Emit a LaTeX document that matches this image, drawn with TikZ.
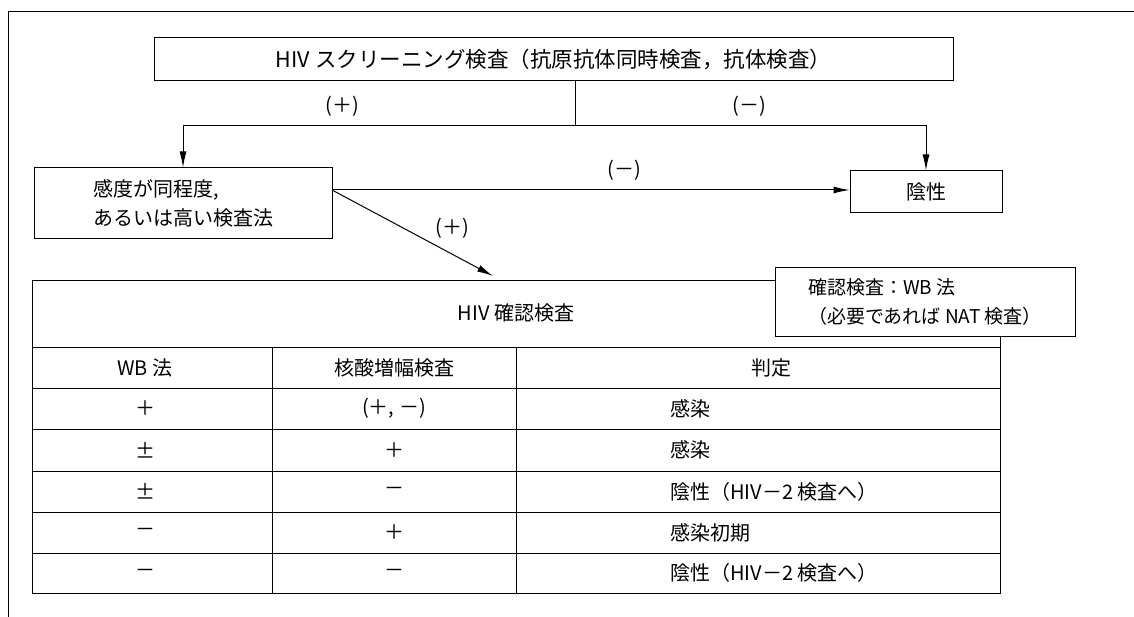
\documentclass[tikz,border=0pt]{standalone}
\usepackage{fontspec}
\setmainfont{Noto Sans CJK JP}
\usetikzlibrary{arrows.meta}
\begin{document}
\begin{tikzpicture}[x=1pt,y=-1pt,
  box/.style={draw, line width=1pt, inner sep=0pt, fill=white},
  txt/.style={font=\fontsize{20}{29}\selectfont, inner sep=0pt},
  conn/.style={line width=1pt},
  arr/.style={conn, -{Latex[length=16pt,width=7pt]}},
  grid/.style={line width=0.9pt},
]
\useasboundingbox (0,0) rectangle (1134,617);
\draw[line width=0.8pt] (8,617) -- (8,11) -- (1134,11);

% flow boxes
\node[box, txt, font=\fontsize{21.5}{29}\selectfont, minimum width=799pt, minimum height=43pt] (scr) at (553.5,59.5)
  {HIV スクリーニング検査（抗原抗体同時検査，抗体検査）};
\node[box, txt, minimum width=298pt, minimum height=71pt, align=left] (sens) at (183,203.5)
  {感度が同程度,\\あるいは高い検査法};
\node[box, txt, minimum width=152pt, minimum height=42pt] (neg) at (926,192) {陰性};

% connectors
\coordinate (j) at (575,126);
\draw[conn] (j |- scr.south) -- (j);
\draw[arr] (j) -| (sens.north);
\draw[arr] (j) -| (neg.north);
\coordinate (s1) at (332,190);
\coordinate (d) at (493,276);
\draw[arr] (s1) -- (s1 -| neg.west);
\draw[arr] (s1) -- (d);

\node[txt] (l1) at (342,106) {(＋)};
\node[txt] (l2) at (749,106) {(－)};
\node[txt] (l3) at (624,170) {(－)};
\node[txt] (l4) at (452,228) {(＋)};

% table
\draw[grid] (32,280) rectangle (1000,593);
\foreach \yy in {347,388,429,471,512,553} \draw[grid] (32,\yy) -- (1000,\yy);
\foreach \xx in {272,516} \draw[grid] (\xx,347) -- (\xx,593);

\node[txt] (ttl) at (516,313) {HIV 確認検査};
\node[txt] (h1) at (145,367.5) {WB 法};
\node[txt] (h2) at (394,367.5) {核酸増幅検査};
\node[txt] (h3) at (771,367.5) {判定};

\node[txt] (a1) at (145,408.5) {＋};
\node[txt] (a2) at (145,450) {±};
\node[txt] (a3) at (145,491.5) {±};
\node[txt] (a4) at (145,532.5) {－};
\node[txt] (a5) at (145,573) {－};

\node[txt] (b1) at (394,408.5) {(＋, －)};
\node[txt] (b2) at (394,450) {＋};
\node[txt] (b3) at (394,491.5) {－};
\node[txt] (b4) at (394,532.5) {＋};
\node[txt] (b5) at (394,573) {－};

\node[txt, anchor=west] (c1) at (670,408.5) {感染};
\node[txt, anchor=west] (c2) at (670,450) {感染};
\node[txt, anchor=west] (c3) at (670,491.5) {陰性（HIV－2 検査へ）};
\node[txt, anchor=west] (c4) at (670,532.5) {感染初期};
\node[txt, anchor=west] (c5) at (670,573) {陰性（HIV－2 検査へ）};

% note box
\node[box, txt, font=\fontsize{19}{29}\selectfont, minimum width=300pt, minimum height=68pt, align=left] (note) at (925,302)
  {確認検査：WB 法\\（必要であれば NAT 検査）};
\end{tikzpicture}
\end{document}
